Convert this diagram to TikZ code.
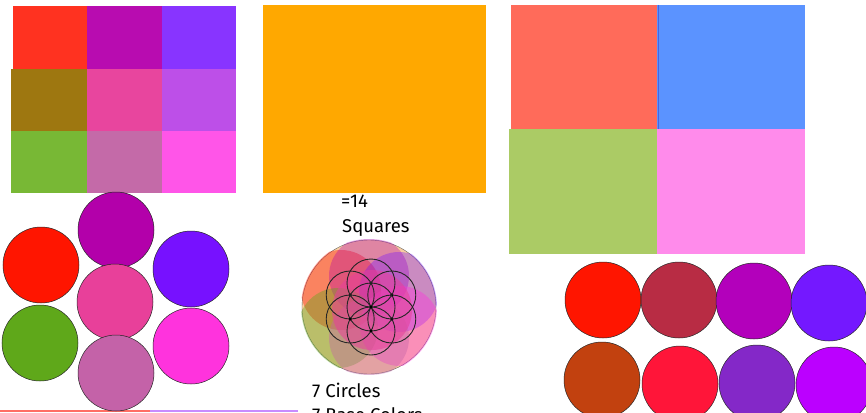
\documentclass[tikz,border=0pt]{standalone}
\usepackage{fontspec}
\setmainfont{Fira Sans}
\begin{document}
\begin{tikzpicture}[x=1pt,y=-1pt,
  sq/.style={draw=none},
  dot/.style={draw=black!85,line width=0.5pt},
  seed/.style={draw=black!85,line width=0.9pt},
  lbl/.style={anchor=base west,inner sep=0pt,font=\fontsize{18.5}{21}\selectfont}]
\useasboundingbox (0,0) rectangle (866,412);
\clip (0,0) rectangle (866,412);
% 3x3 grid
\fill[fill={rgb,255:red,255;green,50;blue,32}] (13,6) rectangle (87,69);
\fill[fill={rgb,255:red,184;green,12;blue,176}] (87,6) rectangle (162,69);
\fill[fill={rgb,255:red,136;green,52;blue,255}] (162,6) rectangle (236,69);
\fill[fill={rgb,255:red,158;green,119;blue,16}] (11,69) rectangle (87,131);
\fill[fill={rgb,255:red,232;green,69;blue,158}] (87,69) rectangle (162,131);
\fill[fill={rgb,255:red,189;green,79;blue,232}] (162,69) rectangle (236,131);
\fill[fill={rgb,255:red,120;green,184;blue,53}] (11,131) rectangle (87,193);
\fill[fill={rgb,255:red,196;green,106;blue,168}] (87,131) rectangle (162,193);
\fill[fill={rgb,255:red,255;green,85;blue,232}] (162,131) rectangle (236,193);
% orange square
\fill[fill={rgb,255:red,255;green,168;blue,0}] (263,5) rectangle (486,193);
% 2x2 quad
\fill[fill={rgb,255:red,255;green,107;blue,90}] (511,5) rectangle (657,129);
\fill[fill={rgb,255:red,91;green,147;blue,255}] (657,5) rectangle (805,129);
\draw[draw={rgb,255:red,70;green,100;blue,230},line width=1pt] (658,5) -- (658,129);
\fill[fill={rgb,255:red,171;green,203;blue,101}] (509,129) rectangle (657,254);
\fill[fill={rgb,255:red,255;green,139;blue,235}] (657,129) rectangle (805,254);
% bottom strip (top of cut-off squares)
\fill[fill={rgb,255:red,255;green,110;blue,100}] (0,410) rectangle (150,412);
\fill[fill={rgb,255:red,200;green,140;blue,255}] (150,410) rectangle (298,412);
% left circle group
\filldraw[dot,fill={rgb,255:red,179;green,0;blue,170}] (116,230) circle (38);
\filldraw[dot,fill={rgb,255:red,255;green,21;blue,0}] (41,265) circle (38);
\filldraw[dot,fill={rgb,255:red,119;green,17;blue,255}] (191,269) circle (38);
\filldraw[dot,fill={rgb,255:red,232;green,64;blue,154}] (115,302) circle (38);
\filldraw[dot,fill={rgb,255:red,95;green,168;blue,26}] (40,343) circle (38);
\filldraw[dot,fill={rgb,255:red,255;green,51;blue,221}] (191,346) circle (38);
\filldraw[dot,fill={rgb,255:red,196;green,98;blue,168}] (116,373) circle (38);
% right circle group
\filldraw[dot,fill={rgb,255:red,255;green,21;blue,0}] (603,300) circle (38);
\filldraw[dot,fill={rgb,255:red,184;green,44;blue,68}] (679,300) circle (38);
\filldraw[dot,fill={rgb,255:red,179;green,0;blue,187}] (754,301) circle (38);
\filldraw[dot,fill={rgb,255:red,116;green,24;blue,255}] (829,303) circle (38);
\filldraw[dot,fill={rgb,255:red,194;green,65;blue,15}] (602,380) circle (38);
\filldraw[dot,fill={rgb,255:red,255;green,21;blue,57}] (680,384) circle (38);
\filldraw[dot,fill={rgb,255:red,132;green,40;blue,200}] (757,383) circle (38);
\filldraw[dot,fill={rgb,255:red,187;green,0;blue,255}] (834,385) circle (38);
% seed of life with translucent colour circles
\filldraw[draw=black!60,line width=0.4pt,fill={rgb,255:red,248;green,205;blue,160}] (369,307) circle (67);
\begin{scope}
\clip (369,307) circle (68);
\fill[fill={rgb,255:red,255;green,21;blue,0},opacity=0.4] (341,290) circle (40);
\fill[fill={rgb,255:red,179;green,0;blue,170},opacity=0.35] (369,276) circle (40);
\fill[fill={rgb,255:red,119;green,17;blue,255},opacity=0.35] (399,292) circle (40);
\fill[fill={rgb,255:red,95;green,168;blue,26},opacity=0.4] (338,328) circle (40);
\fill[fill={rgb,255:red,255;green,51;blue,221},opacity=0.4] (400,326) circle (40);
\fill[fill={rgb,255:red,196;green,98;blue,168},opacity=0.4] (369,338) circle (40);
\fill[fill={rgb,255:red,232;green,64;blue,154},opacity=0.55] (372,310) circle (40);
\end{scope}
\draw[seed] (371,307) circle (24);
\foreach \a in {30,90,150,210,270,330}{
  \draw[seed] (371,307) ++(\a:24) circle (24);
  \fill[black] (371,307) ++(\a:-24) circle (1.7);
}
\fill[black] (371,307) circle (1.7);
% labels
\node[lbl] (eq) at (341,207) {=14};
\node[lbl] (squares) at (342,232) {Squares};
\node[lbl] (circles) at (312,397) {7 Circles};
\node[lbl] (base) at (312,421) {7 Base Colors};
\end{tikzpicture}
\end{document}
